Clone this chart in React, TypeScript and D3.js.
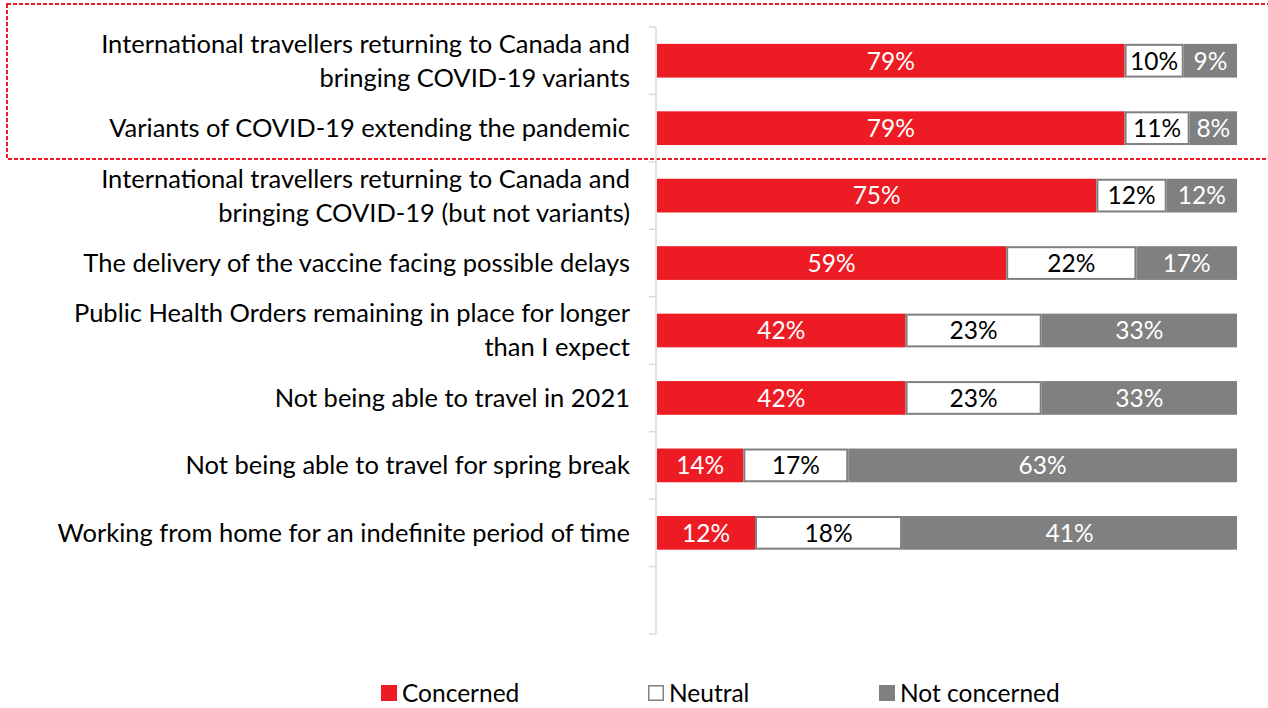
import React from "react";
import * as d3 from "d3";

const categories: string[][] = [
  ["International travellers returning to Canada and", "bringing COVID-19 variants"],
  ["Variants of COVID-19 extending the pandemic"],
  ["International travellers returning to Canada and", "bringing COVID-19 (but not variants)"],
  ["The delivery of the vaccine facing possible delays"],
  ["Public Health Orders remaining in place for longer", "than I expect"],
  ["Not being able to travel in 2021"],
  ["Not being able to travel for spring break"],
  ["Working from home for an indefinite period of time"],
  [],
];
const concerned = [79, 79, 75, 59, 42, 42, 14, 12];
const neutral = [10, 11, 12, 22, 23, 23, 17, 18];
const notConcerned = [9, 8, 12, 17, 33, 33, 63, 41];
const seriesNames = ["Concerned", "Neutral", "Not concerned"];

const W = 1268;
const H = 708;
const RED = "#ED1C24";
const GRAY = "#808080";
const FONT = "Lato, 'Open Sans', sans-serif";

export default function App() {
  const idx = d3.range(categories.length).map(String);
  const y = d3.scaleBand<string>().domain(idx).range([27, 634]).paddingInner(0.5).paddingOuter(0.25);
  const x = d3.scaleLinear().domain([0, 1]).range([657, 1237]);
  const rows = concerned.map((c, i) => {
    const vals = [c, neutral[i], notConcerned[i]];
    const tot = d3.sum(vals);
    let acc = 0;
    return vals.map((v, k) => {
      const x0 = acc / tot;
      acc += v;
      return { k, v, x0, x1: acc / tot };
    });
  });
  const ticks = d3.range(categories.length + 1).map((i) => 27 + (i * (634 - 27)) / categories.length);
  const fills = [RED, "#FFFFFF", GRAY];
  const textFill = ["#FFFFFF", "#000000", "#FFFFFF"];
  const legendX = [381, 648, 879];

  return (
    <svg width={W} height={H} style={{ position: "absolute", left: 0, top: 0, fontFamily: FONT }}>
      <rect x={0} y={0} width={W} height={H} fill="#fff" />
      {/* dashed highlight box */}
      <rect x={7} y={4} width={W + 10} height={155} fill="none" stroke={RED} strokeWidth={2} strokeDasharray="4 2" />
      {/* axis */}
      <line x1={656} x2={656} y1={27} y2={634} stroke="#D9D9D9" strokeWidth={1.5} />
      {ticks.map((t, i) => (
        <line key={i} x1={649} x2={656} y1={t} y2={t} stroke="#D9D9D9" strokeWidth={1.5} />
      ))}
      {categories.map((lines, i) => {
        const cy = (y(String(i)) as number) + y.bandwidth() / 2;
        const lh = 34;
        return (
          <text key={i} x={630} textAnchor="end" fontSize={25.5} fill="#000">
            {lines.map((l, j) => (
              <tspan key={j} x={630} y={cy + (j - (lines.length - 1) / 2) * lh} dy="0.35em">
                {l}
              </tspan>
            ))}
          </text>
        );
      })}
      {rows.map((segs, i) => {
        const by = y(String(i)) as number;
        const bh = y.bandwidth();
        return (
          <g key={i}>
            {segs.map((s) => (
              <rect
                key={s.k}
                x={x(s.x0) + (s.k === 1 ? 1 : 0)}
                y={by + (s.k === 1 ? 1 : 0)}
                width={x(s.x1) - x(s.x0) - (s.k === 1 ? 2 : 0)}
                height={bh - (s.k === 1 ? 2 : 0)}
                fill={fills[s.k]}
                stroke={s.k === 1 ? GRAY : "none"}
                strokeWidth={2}
              />
            ))}
            {segs.map((s) => (
              <text
                key={"t" + s.k}
                x={(x(s.x0) + x(s.x1)) / 2}
                y={by + bh / 2}
                dy="0.36em"
                textAnchor="middle"
                fontSize={24.5}
                fill={textFill[s.k]}
              >
                {s.v}%
              </text>
            ))}
          </g>
        );
      })}
      {seriesNames.map((n, k) => (
        <g key={n}>
          <rect
            x={legendX[k] + (k === 1 ? 0.75 : 0)}
            y={685 + (k === 1 ? 0.75 : 0)}
            width={k === 1 ? 14.5 : 16}
            height={k === 1 ? 14.5 : 16}
            fill={fills[k]}
            stroke={k === 1 ? GRAY : "none"}
            strokeWidth={1.5}
          />
          <text x={legendX[k] + 21} y={693} dy="0.36em" fontSize={24.5} fill="#000">
            {n}
          </text>
        </g>
      ))}
    </svg>
  );
}
